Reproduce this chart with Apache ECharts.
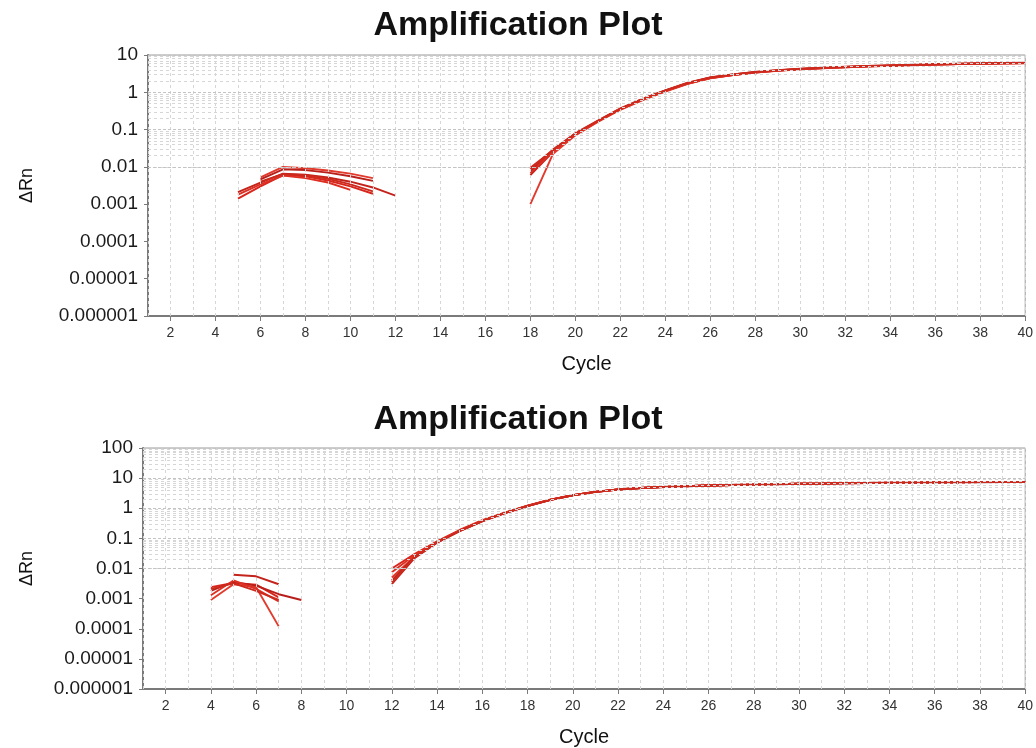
<!DOCTYPE html>
<html><head><meta charset="utf-8">
<script src="https://cdn.jsdelivr.net/npm/echarts@6/dist/echarts.min.js"></script>
<style>html,body{margin:0;padding:0;background:#fff}#c{width:1036px;height:748px}</style>
</head><body><div id="c"></div>
<script>
// ---- Data ----
const titleText = 'Amplification Plot';
const xName = 'Cycle';
const yName = 'ΔRn';
const xLabelCycles = [2,4,6,8,10,12,14,16,18,20,22,24,26,28,30,32,34,36,38,40];
const gridCycles = [1,2,3,4,5,6,7,8,9,10,11,12,13,14,15,16,17,18,19,20,21,22,23,24,25,26,27,28,29,30,31,32,33,34,35,36,37,38,39,40];
const yLabelsTop = ['0.000001','0.00001','0.0001','0.001','0.01','0.1','1','10'];
const yLabelsBottom = ['0.000001','0.00001','0.0001','0.001','0.01','0.1','1','10','100'];
const minorMultipliers = [2,3,4,5,6,7,8,9];

// top plot: early segments [startCycle, values]
const topEarly1 = [5, [0.0014, 0.0030, 0.0060, 0.0056, 0.0043, 0.0030, 0.0019]];
const topEarly2 = [5, [0.0021, 0.0038, 0.0066, 0.0062, 0.0052, 0.0040, 0.0028, 0.0017]];
const topEarly3 = [6, [0.0052, 0.0100, 0.0092, 0.0080, 0.0066, 0.0050]];
const topEarly4 = [6, [0.0046, 0.0086, 0.0082, 0.0070, 0.0056, 0.0042]];
const topEarly5 = [5, [0.0018, 0.0034, 0.0058, 0.0050, 0.0038, 0.0024]];
const topEarly6 = [6, [0.0040, 0.0064, 0.0060, 0.0048, 0.0034, 0.0022]];
// top plot: amplification segments, cycles 18..40
const topLateStart = 18;
const topLate1 = [0.0095, 0.028, 0.078, 0.17, 0.36, 0.66, 1.10, 1.75, 2.45, 2.95, 3.45, 3.85, 4.20, 4.50, 4.75, 5.00, 5.20, 5.40, 5.60, 5.75, 5.90, 6.00, 6.10];
const topLate2 = [0.0060, 0.025, 0.072, 0.165, 0.35, 0.64, 1.07, 1.70, 2.40, 2.90, 3.40, 3.80, 4.15, 4.45, 4.70, 4.95, 5.15, 5.35, 5.55, 5.70, 5.85, 5.95, 6.05];
const topLate3 = [0.0010, 0.022, 0.070, 0.16, 0.34, 0.62, 1.05, 1.68, 2.38, 2.88, 3.38, 3.78, 4.12, 4.42, 4.68, 4.92, 5.12, 5.32, 5.52, 5.68, 5.82, 5.92, 6.02];
const topLate4 = [0.0075, 0.027, 0.076, 0.17, 0.36, 0.67, 1.12, 1.78, 2.50, 3.00, 3.50, 3.90, 4.25, 4.55, 4.80, 5.05, 5.25, 5.45, 5.65, 5.80, 5.95, 6.05, 6.15];
const topLate5 = [0.0068, 0.026, 0.074, 0.168, 0.355, 0.65, 1.09, 1.72, 2.42, 2.92, 3.42, 3.82, 4.18, 4.48, 4.72, 4.98, 5.18, 5.38, 5.58, 5.72, 5.88, 5.98, 6.08];
const topLate6 = [0.0085, 0.029, 0.080, 0.175, 0.37, 0.68, 1.13, 1.80, 2.52, 3.02, 3.52, 3.92, 4.28, 4.58, 4.82, 5.08, 5.28, 5.48, 5.68, 5.82, 5.98, 6.08, 6.18];

// bottom plot: early segments
const botEarly1 = [4, [0.0024, 0.0033, 0.0029, 0.0011]];
const botEarly2 = [5, [0.0062, 0.0055, 0.0030]];
const botEarly3 = [4, [0.0009, 0.0030, 0.0024, 0.00012]];
const botEarly4 = [4, [0.0018, 0.0036, 0.0027, 0.0014, 0.0009]];
const botEarly5 = [4, [0.0013, 0.0040, 0.0021, 0.0008]];
const botEarly6 = [4, [0.0021, 0.0032, 0.0018, 0.0009]];
// bottom plot: amplification segments, cycles 12..40
const botLateStart = 12;
const botLate1 = [0.0100, 0.030, 0.080, 0.19, 0.40, 0.72, 1.22, 1.92, 2.72, 3.52, 4.22, 4.72, 5.12, 5.42, 5.72, 5.92, 6.12, 6.32, 6.52, 6.62, 6.82, 6.92, 7.02, 7.12, 7.22, 7.32, 7.38, 7.42, 7.52];
const botLate2 = [0.0030, 0.022, 0.072, 0.175, 0.37, 0.69, 1.18, 1.88, 2.68, 3.48, 4.18, 4.68, 5.08, 5.38, 5.68, 5.88, 6.08, 6.28, 6.48, 6.58, 6.78, 6.88, 6.98, 7.08, 7.18, 7.28, 7.33, 7.38, 7.48];
const botLate3 = [0.0050, 0.025, 0.075, 0.18, 0.38, 0.70, 1.20, 1.90, 2.70, 3.50, 4.20, 4.70, 5.10, 5.40, 5.70, 5.90, 6.10, 6.30, 6.50, 6.60, 6.80, 6.90, 7.00, 7.10, 7.20, 7.30, 7.35, 7.40, 7.50];
const botLate4 = [0.0040, 0.024, 0.074, 0.178, 0.375, 0.70, 1.19, 1.89, 2.69, 3.49, 4.19, 4.69, 5.09, 5.39, 5.69, 5.89, 6.09, 6.29, 6.49, 6.59, 6.79, 6.89, 6.99, 7.09, 7.19, 7.29, 7.34, 7.39, 7.49];
const botLate5 = [0.0075, 0.028, 0.078, 0.185, 0.39, 0.71, 1.21, 1.91, 2.71, 3.51, 4.21, 4.71, 5.11, 5.41, 5.71, 5.91, 6.11, 6.31, 6.51, 6.61, 6.81, 6.91, 7.01, 7.11, 7.21, 7.31, 7.36, 7.41, 7.51];
const botLate6 = [0.0035, 0.023, 0.073, 0.176, 0.372, 0.69, 1.19, 1.89, 2.69, 3.49, 4.19, 4.69, 5.09, 5.39, 5.69, 5.89, 6.09, 6.29, 6.49, 6.59, 6.79, 6.89, 6.99, 7.09, 7.19, 7.29, 7.34, 7.39, 7.49];

// ---- Build ----
const FONT = 'Liberation Sans, Arial, sans-serif';
const lineColors = ['#d9261c', '#c4231b', '#e23a2c', '#b81f1a', '#dd2f22', '#cc2a1e'];

function buildData(early, lateStart, late) {
  const out = [];
  early[1].forEach((v, i) => out.push([early[0] + i, v]));
  out.push([early[0] + early[1].length, null]);
  late.forEach((v, i) => out.push([lateStart + i, v]));
  return out;
}
function decadeExp(v) { return Math.round(Math.log10(v)); }
function gridSeries(idx, labels) {
  const lo = decadeExp(Number(labels[0]));
  const minor = [];
  for (let e = lo; e < lo + labels.length - 1; e++) {
    minorMultipliers.forEach(m => minor.push({ yAxis: m * Math.pow(10, e) }));
  }
  const major = labels.map(l => ({ yAxis: Number(l), lineStyle: { color: '#c4c4c4', type: [3, 2] } }));
  const vert = gridCycles.map(c => ({ xAxis: c }));
  return {
    type: 'line', xAxisIndex: idx, yAxisIndex: idx, data: [], silent: true, z: 1,
    markLine: {
      silent: true, symbol: ['none', 'none'], label: { show: false }, animation: false,
      lineStyle: { color: '#d6d6d6', type: [3, 3], width: 1 },
      data: minor.concat(vert).concat(major)
    }
  };
}

const topEarly = [topEarly1, topEarly2, topEarly3, topEarly4, topEarly5, topEarly6];
const topLate = [topLate1, topLate2, topLate3, topLate4, topLate5, topLate6];
const botEarly = [botEarly1, botEarly2, botEarly3, botEarly4, botEarly5, botEarly6];
const botLate = [botLate1, botLate2, botLate3, botLate4, botLate5, botLate6];

const series = [gridSeries(0, yLabelsTop), gridSeries(1, yLabelsBottom)];
topEarly.forEach((e, i) => series.push({
  type: 'line', xAxisIndex: 0, yAxisIndex: 0, showSymbol: false, symbol: 'none', connectNulls: false, z: 3,
  lineStyle: { color: lineColors[i], width: 1.9 }, data: buildData(e, topLateStart, topLate[i])
}));
botEarly.forEach((e, i) => series.push({
  type: 'line', xAxisIndex: 1, yAxisIndex: 1, showSymbol: false, symbol: 'none', connectNulls: false, z: 3,
  lineStyle: { color: lineColors[i], width: 1.9 }, data: buildData(e, botLateStart, botLate[i])
}));

function xAxis(idx) {
  return {
    gridIndex: idx, type: 'value', min: 1, max: 40, interval: 1,
    name: xName, nameLocation: 'middle', nameGap: 38,
    nameTextStyle: { fontSize: 20, color: '#111', fontFamily: FONT },
    axisLine: { show: true, lineStyle: { color: '#7a7a7a', width: 2 } },
    axisTick: { show: true, customValues: xLabelCycles, length: 5, lineStyle: { color: '#7a7a7a' } },
    axisLabel: { customValues: xLabelCycles, fontSize: 14, color: '#333', margin: 10, fontFamily: FONT },
    splitLine: { show: false }
  };
}
function yAxis(idx, labels, gap) {
  return {
    gridIndex: idx, type: 'log', logBase: 10,
    min: Number(labels[0]), max: Number(labels[labels.length - 1]), splitNumber: labels.length - 1,
    name: yName, nameLocation: 'middle', nameRotate: 90, nameGap: gap,
    nameTextStyle: { fontSize: 18, color: '#111', fontFamily: FONT },
    axisLine: { show: true, lineStyle: { color: '#7a7a7a', width: 2 } },
    axisTick: { show: true, length: 4, lineStyle: { color: '#7a7a7a' } },
    axisLabel: {
      fontSize: 19, color: '#1a1a1a', margin: 10, fontFamily: FONT,
      formatter: v => labels[decadeExp(v) - decadeExp(Number(labels[0]))]
    },
    splitLine: { show: false }
  };
}

const option = {
  animation: false,
  backgroundColor: '#ffffff',
  title: [
    { text: titleText, left: 'center', top: 4, textStyle: { fontSize: 34, fontWeight: 'bold', color: '#111', fontFamily: FONT } },
    { text: titleText, left: 'center', top: 398, textStyle: { fontSize: 34, fontWeight: 'bold', color: '#111', fontFamily: FONT } }
  ],
  grid: [
    { left: 148, right: 6, top: 55, height: 261, show: true, borderColor: '#9a9a9a', borderWidth: 1, backgroundColor: 'transparent' },
    { left: 143, right: 6, top: 448, height: 242, show: true, borderColor: '#9a9a9a', borderWidth: 1, backgroundColor: 'transparent' }
  ],
  xAxis: [xAxis(0), xAxis(1)],
  yAxis: [yAxis(0, yLabelsTop, 112), yAxis(1, yLabelsBottom, 107)],
  series: series
};
const chart = echarts.init(document.getElementById('c'), null, { renderer: 'canvas' });
chart.setOption(option);
</script></body></html>
